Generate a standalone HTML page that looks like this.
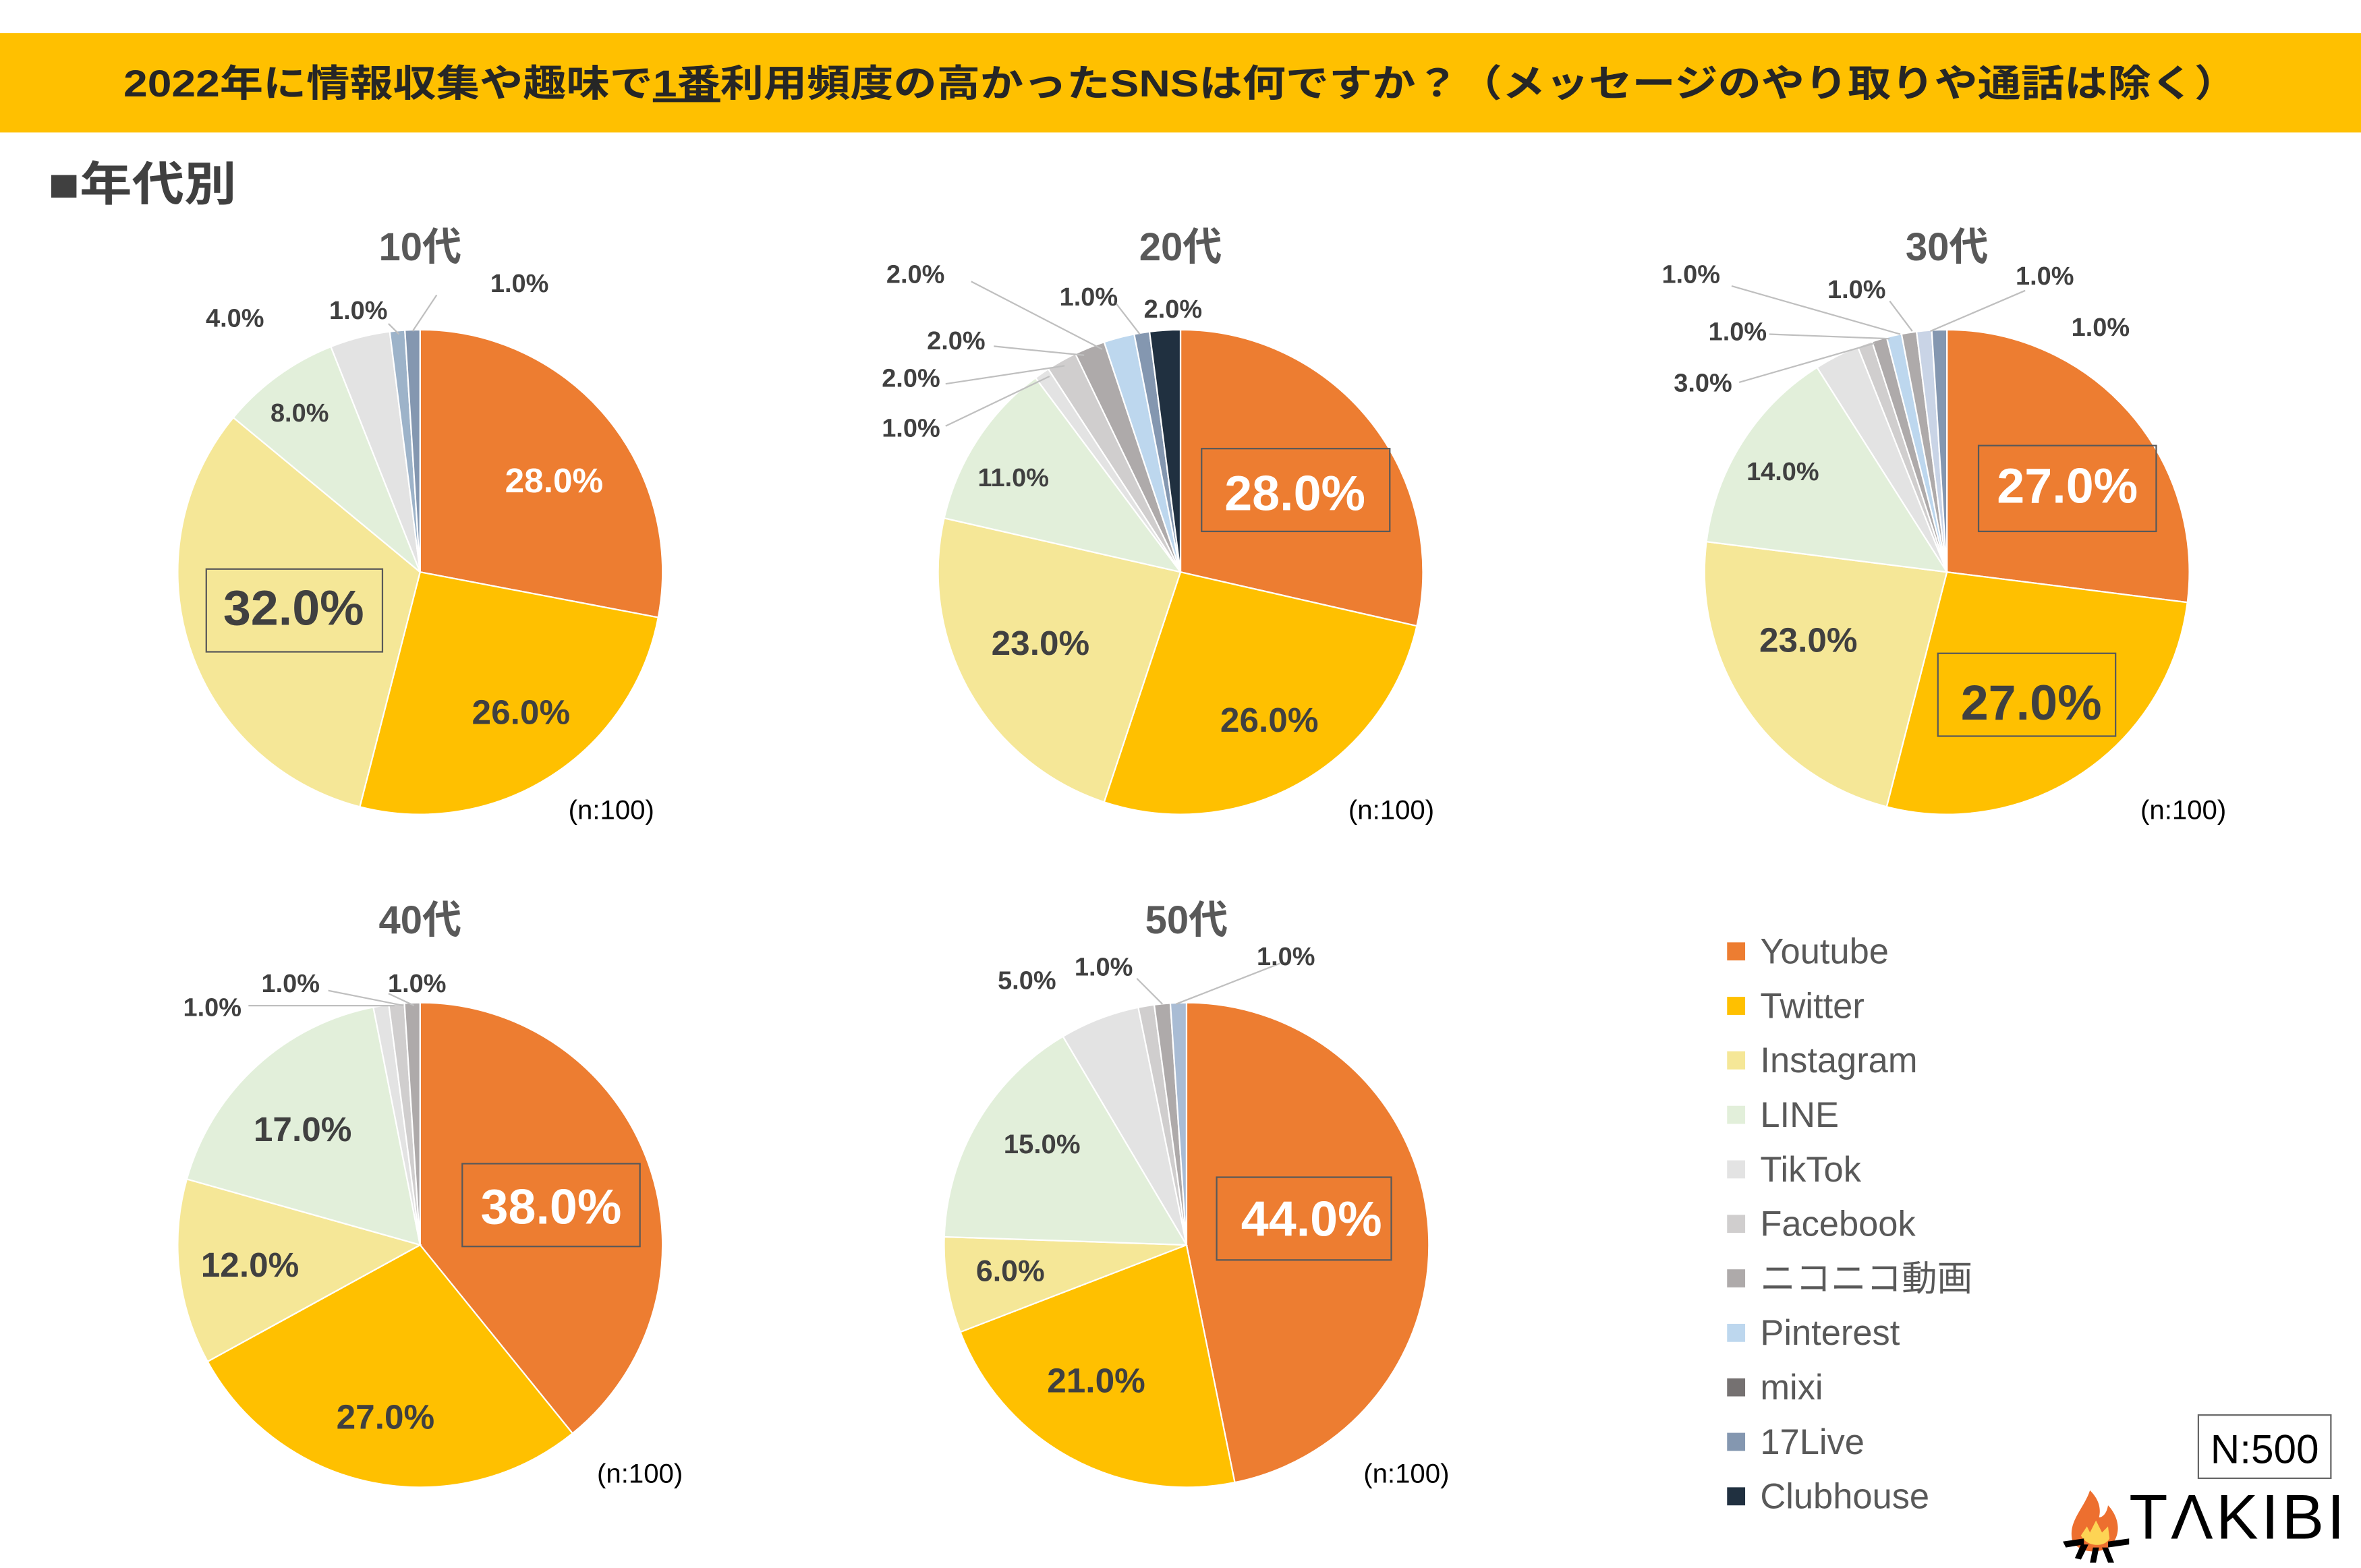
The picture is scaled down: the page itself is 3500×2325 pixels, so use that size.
<!DOCTYPE html>
<html><head><meta charset="utf-8"><style>
html,body{margin:0;padding:0;background:#fff}
svg{display:block}
text{font-family:"Liberation Sans","Noto Sans CJK JP",sans-serif}
</style></head><body>
<svg id="s" width="3500" height="2325" viewBox="0 0 1568 1041.6" xmlns="http://www.w3.org/2000/svg">
<rect x="0" y="0" width="1568" height="1042" fill="#fff"/>
<rect x="0" y="22" width="1568" height="66" fill="#FFC000"/>
<text x="82" y="64" font-size="25" font-weight="bold" fill="#262626" textLength="1404" lengthAdjust="spacingAndGlyphs">2022年に情報収集や趣味で<tspan text-decoration="underline">1番</tspan>利用頻度の高かったSNSは何ですか？（メッセージのやり取りや通話は除く）</text>
<text x="32" y="133" font-size="31" font-weight="bold" fill="#404040" textLength="125" lengthAdjust="spacingAndGlyphs">■年代別</text>
<g id="pies"></g>
<g id="labels" font-weight="bold" fill="#404040"></g>
<g font-size="23.5" fill="#595959" id="legend"></g>
<rect x="1460" y="940" width="88" height="42" fill="#fff" stroke="#666" stroke-width="1"/>
<text x="1504" y="972" text-anchor="middle" font-size="27" fill="#000">N:500</text>
<g transform="translate(1370,982)">
<path d="M18 8 C14 20 4 28 6 40 C8 50 28 52 34 42 C40 32 34 22 30 18 C29 24 26 26 24 26 C26 18 22 12 18 8Z" fill="#ED6F2F"/>
<path d="M12 38 L16 32 L18 36 L22 28 L26 36 L30 32 L31 40 C28 46 16 46 12 38Z" fill="#FDD454"/>
<path d="M0 42 L14 40 L14 44 L2 46Z M20 46 L24 46 L22 56 L18 56Z M26 46 L30 46 L34 56 L30 56Z M30 42 L44 40 L44 44 L30 46Z M12 44 L17 44 L12 54 L8 53Z" fill="#000"/>
</g>
<text x="1414" y="1022" font-size="42" fill="#000" letter-spacing="2">T<tspan font-size="42">Λ</tspan>KIBI</text>
</svg>
<script>
const C=['#ED7D31','#FFC000','#F5E797','#E2EFDA','#E3E3E3','#D0CECE','#AEAAAA','#BDD7EE','#757171','#8497B0','#203040'];
const NS='http://www.w3.org/2000/svg';
function el(t,a,p,txt){const e=document.createElementNS(NS,t);for(const k in a)e.setAttribute(k,a[k]);if(txt!=null)e.textContent=txt;p.appendChild(e);return e;}
const pies=document.getElementById('pies'),L=document.getElementById('labels');
const data=[
 {cx:279,cy:380,t:'10代',v:[28,26,32,8,4,0,0,0,0,1,1],cc:{9:'#9DB3C9',10:'#8497B0'}},
 {cx:784,cy:380,t:'20代',v:[28,26,23,11,1,2,2,2,0,1,2]},
 {cx:1293,cy:380,t:'30代',v:[27,27,23,14,3,1,1,1,1,1,1],cc:{8:'#AEAAAA',9:'#C9D4E6',10:'#8497B0'}},
 {cx:279,cy:827,t:'40代',v:[38,27,12,17,1,1,1,0,0,0,0]},
 {cx:788,cy:827,t:'50代',v:[44,21,6,15,5,1,1,0,0,1,0],cc:{5:'#D0CECE',6:'#AEAAAA',9:'#A9BCD4'}}
];
const r=161;
data.forEach(d=>{
 const tot=d.v.reduce((a,b)=>a+b,0);let a=0;
 d.v.forEach((v,i)=>{if(!v)return;const a0=a,a1=a+v/tot*2*Math.PI;a=a1;
  const x0=d.cx+r*Math.sin(a0),y0=d.cy-r*Math.cos(a0),x1=d.cx+r*Math.sin(a1),y1=d.cy-r*Math.cos(a1);
  const col=(d.cc&&d.cc[i])||C[i];
  el('path',{d:`M${d.cx} ${d.cy}L${x0} ${y0}A${r} ${r} 0 ${a1-a0>Math.PI?1:0} 1 ${x1} ${y1}Z`,fill:col,stroke:'#fff','stroke-width':1},pies);});
 el('text',{x:d.cx,y:d.cy-207,'text-anchor':'middle','font-size':26,fill:'#595959'},L,d.t);
});
const lab=[
 [368,327,23,'28.0%','#fff'],[346,481,23,'26.0%'],[195,415,33,'32.0%','#404040',[137,378,117,55]],[199,280,17,'8.0%'],[156,217,17,'4.0%'],[238,212,17,'1.0%'],[345,194,17,'1.0%'],
 [860,339,33,'28.0%','#fff',[798,298,125,55]],[843,486,23,'26.0%'],[691,435,23,'23.0%'],[673,323,17,'11.0%'],[608,188,17,'2.0%'],[723,203,17,'1.0%'],[779,211,17,'2.0%'],[635,232,17,'2.0%'],[605,257,17,'2.0%'],[605,290,17,'1.0%'],
 [1373,334,33,'27.0%','#fff',[1314,296,118,57]],[1349,478,33,'27.0%','#404040',[1287,434,118,55]],[1201,433,23,'23.0%'],[1184,319,17,'14.0%'],[1131,260,17,'3.0%'],[1154,226,17,'1.0%'],[1123,188,17,'1.0%'],[1233,198,17,'1.0%'],[1358,189,17,'1.0%'],[1395,223,17,'1.0%'],
 [366,813,33,'38.0%','#fff',[307,773,118,55]],[256,949,23,'27.0%'],[166,848,23,'12.0%'],[201,758,23,'17.0%'],[141,675,17,'1.0%'],[193,659,17,'1.0%'],[277,659,17,'1.0%'],
 [871,821,33,'44.0%','#fff',[808,782,116,55]],[728,925,23,'21.0%'],[671,851,20,'6.0%'],[692,766,18,'15.0%'],[682,657,17,'5.0%'],[733,648,17,'1.0%'],[854,641,17,'1.0%']
];
lab.forEach(l=>{
 if(l[5]){el('rect',{x:l[5][0],y:l[5][1],width:l[5][2],height:l[5][3],fill:'none',stroke:'#595959','stroke-width':1},L);}
 el('text',{x:l[0],y:l[1],'text-anchor':'middle','font-size':l[2],fill:l[4]||'#404040'},L,l[3]);
});
[[406,544],[924,544],[1450,544],[425,985],[934,985]].forEach(p=>el('text',{x:p[0],y:p[1],'text-anchor':'middle','font-size':18,'font-weight':'normal',fill:'#000'},L,'(n:100)'));
[[265,222,258,215],[274,220,290,196],[757,222,740,200],[732,232,645,187],[720,236,660,230],[707,243,628,255],[697,250,628,283],[1262,222,1150,190],[1255,225,1175,222],[1245,228,1155,254],[1270,220,1255,200],[1282,220,1345,193],[262,668,165,668],[268,668,218,658],[275,668,258,660],[772,667,755,650],[781,667,850,640]].forEach(q=>el('line',{x1:q[0],y1:q[1],x2:q[2],y2:q[3],stroke:'#bfbfbf','stroke-width':1},pies));
const names=['Youtube','Twitter','Instagram','LINE','TikTok','Facebook','ニコニコ動画','Pinterest','mixi','17Live','Clubhouse'];
const lg=document.getElementById('legend');
names.forEach((n,i)=>{const y=632+i*36.2;el('rect',{x:1147,y:y-6,width:12,height:12,fill:C[i]},lg);el('text',{x:1169,y:y+8},lg,n);});
</script>
</body></html>
